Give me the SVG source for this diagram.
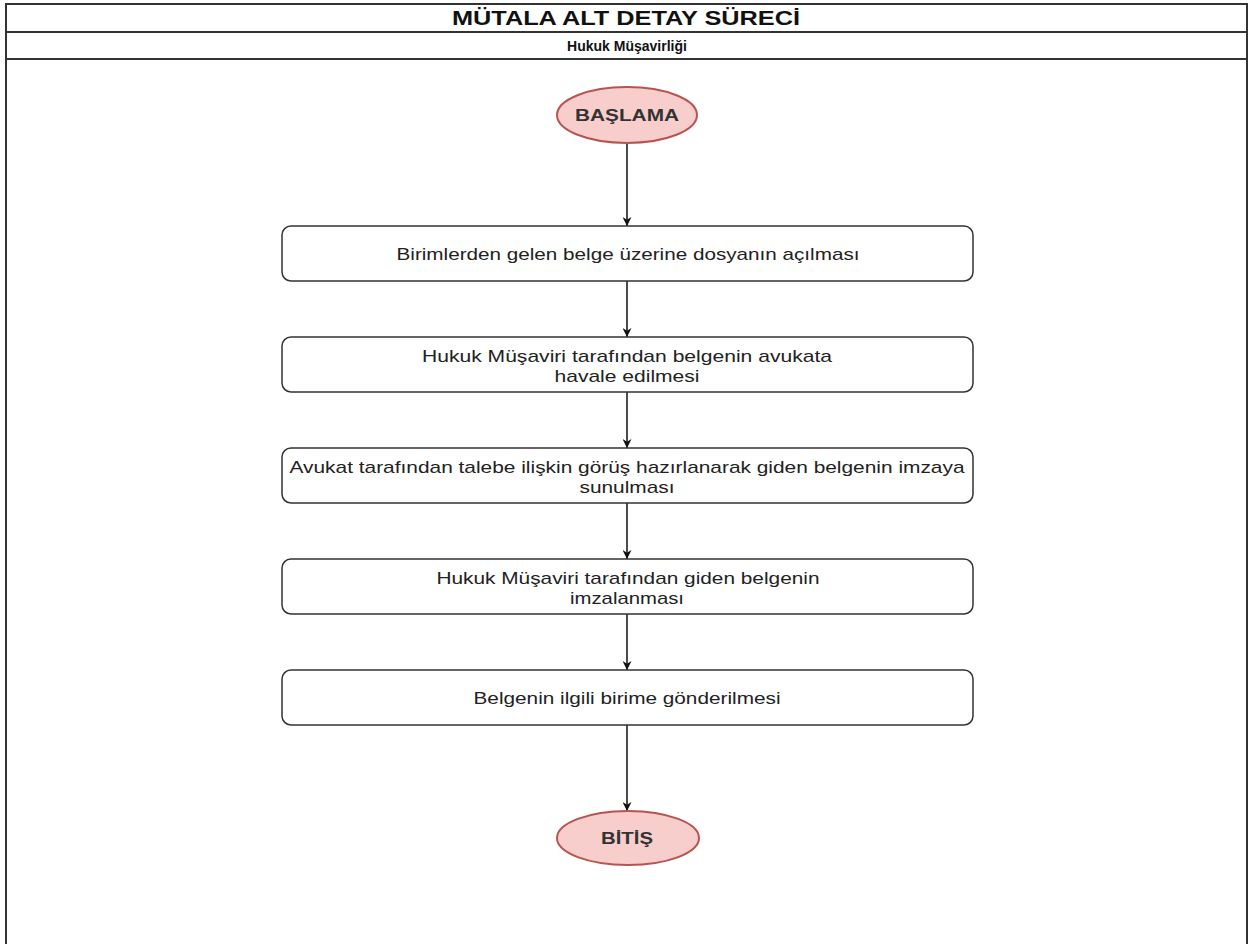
<svg xmlns="http://www.w3.org/2000/svg" width="1250" height="944" viewBox="0 0 1250 944">
<defs>
<style>
.frame{fill:#fff;stroke:#333;stroke-width:2}
.box{fill:#fff;stroke:#333;stroke-width:1.5}
.term{fill:#f8cecc;stroke:#b85450;stroke-width:2}
.t{font-family:"Liberation Sans",Arial,sans-serif;font-size:17px;fill:#222;text-anchor:middle}
.title{font-family:"Liberation Sans",Arial,sans-serif;font-size:20px;font-weight:bold;fill:#111;text-anchor:middle}
.sub{font-family:"Liberation Sans",Arial,sans-serif;font-size:14px;font-weight:bold;fill:#111;text-anchor:middle}
.tt{font-family:"Liberation Sans",Arial,sans-serif;font-size:16px;font-weight:bold;fill:#333;text-anchor:middle}
.edge{stroke:#111;stroke-width:1.5;fill:none;marker-end:url(#arr)}
</style>
<marker id="arr" viewBox="0 0 10 10" refX="10" refY="5" markerWidth="9" markerHeight="9" markerUnits="userSpaceOnUse" orient="auto">
<path d="M0,0 L10,5 L0,10 L3,5 Z" fill="#111"/>
</marker>
</defs>
<rect width="1250" height="944" fill="#fff"/>
<g id="frame">
<rect class="frame" x="6" y="4" width="1241" height="950"/>
<line x1="6" y1="32" x2="1247" y2="32" stroke="#333" stroke-width="2"/>
<line x1="6" y1="59" x2="1247" y2="59" stroke="#333" stroke-width="2"/>
<text class="title" x="626" y="25" textLength="348" lengthAdjust="spacingAndGlyphs">MÜTALA ALT DETAY SÜRECİ</text>
<text class="sub" x="627" y="51">Hukuk Müşavirliği</text>
</g>
<g id="connectors">
<line class="edge" x1="627" y1="143" x2="627" y2="226"/>
<line class="edge" x1="627" y1="281" x2="627" y2="337"/>
<line class="edge" x1="627" y1="392" x2="627" y2="448"/>
<line class="edge" x1="627" y1="503" x2="627" y2="559"/>
<line class="edge" x1="627" y1="614" x2="627" y2="670"/>
<line class="edge" x1="627" y1="725" x2="627" y2="811"/>
</g>
<g id="start">
<ellipse class="term" cx="627" cy="115" rx="70" ry="28"/>
<text class="tt" x="627" y="121" textLength="104" lengthAdjust="spacingAndGlyphs">BAŞLAMA</text>
</g>
<g id="step1">
<rect class="box" x="282" y="226" width="691" height="55" rx="9"/>
<text class="t" x="628" y="260" textLength="463" lengthAdjust="spacingAndGlyphs">Birimlerden gelen belge üzerine dosyanın açılması</text>
</g>
<g id="step2">
<rect class="box" x="282" y="337" width="691" height="55" rx="9"/>
<text class="t" x="627" y="362" textLength="410" lengthAdjust="spacingAndGlyphs">Hukuk Müşaviri tarafından belgenin avukata</text>
<text class="t" x="627" y="382" textLength="145" lengthAdjust="spacingAndGlyphs">havale edilmesi</text>
</g>
<g id="step3">
<rect class="box" x="282" y="448" width="691" height="55" rx="9"/>
<text class="t" x="627" y="473" textLength="675" lengthAdjust="spacingAndGlyphs">Avukat tarafından talebe ilişkin görüş hazırlanarak giden belgenin imzaya</text>
<text class="t" x="627" y="493" textLength="95" lengthAdjust="spacingAndGlyphs">sunulması</text>
</g>
<g id="step4">
<rect class="box" x="282" y="559" width="691" height="55" rx="9"/>
<text class="t" x="628" y="584" textLength="383" lengthAdjust="spacingAndGlyphs">Hukuk Müşaviri tarafından giden belgenin</text>
<text class="t" x="627" y="604" textLength="114" lengthAdjust="spacingAndGlyphs">imzalanması</text>
</g>
<g id="step5">
<rect class="box" x="282" y="670" width="691" height="55" rx="9"/>
<text class="t" x="627" y="704" textLength="307" lengthAdjust="spacingAndGlyphs">Belgenin ilgili birime gönderilmesi</text>
</g>
<g id="end">
<ellipse class="term" cx="628" cy="838" rx="71" ry="27"/>
<text class="tt" x="627" y="844" textLength="52" lengthAdjust="spacingAndGlyphs">BİTİŞ</text>
</g>
</svg>
